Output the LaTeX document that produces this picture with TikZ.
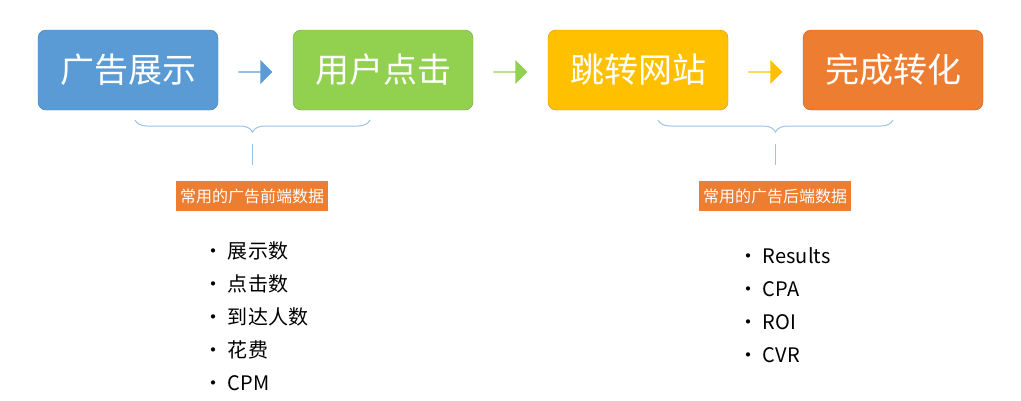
\documentclass[tikz,border=0pt]{standalone}
\usepackage{fontspec}
\setmainfont{Noto Sans CJK SC}
\usetikzlibrary{shapes.arrows,decorations.pathreplacing}
\definecolor{stepBlue}{HTML}{5B9BD5}
\definecolor{stepGreen}{HTML}{92D050}
\definecolor{stepYellow}{HTML}{FFC000}
\definecolor{stepOrange}{HTML}{ED7D31}
\definecolor{braceColor}{HTML}{9DC3E6}
\tikzset{
  stepbox/.style={rounded corners=8pt, minimum width=180pt, minimum height=80pt, text=white, font=\fontsize{34}{38}\selectfont, draw=#1!80!black, fill=#1},
  flowarrow/.style={single arrow, fill=#1, draw=none, minimum width=24pt, single arrow head extend=4pt, minimum height=34pt, inner sep=0pt},
  tagbox/.style={fill=stepOrange, text=white, font=\fontsize{16}{18}\selectfont, inner sep=4pt, minimum height=30pt},
  itemlist/.style={anchor=north west, font=\fontsize{20}{33}\selectfont, align=left},
  bracket/.style={draw=braceColor, line width=1pt, decorate, decoration={brace, mirror, amplitude=12pt}}
}
\begin{document}
\begin{tikzpicture}[x=1pt, y=-1pt]
  \useasboundingbox (0,0) rectangle (1021,400);
  % --- Ablauf ---
  \node[stepbox=stepBlue] (show) at (128,70) {广告展示};
  \node[stepbox=stepGreen] (click) at (383,70) {用户点击};
  \node[stepbox=stepYellow] (jump) at (638,70) {跳转网站};
  \node[stepbox=stepOrange] (done) at (893,70) {完成转化};
  \node[flowarrow=stepBlue] (a1) at (255,72) {};
  \node[flowarrow=stepGreen] (a2) at (510,72) {};
  \node[flowarrow=stepYellow] (a3) at (765,72) {};
  % --- Klammern ---
  \coordinate (l1) at (135,120); \coordinate (l2) at (370,120);
  \coordinate (r1) at (658,120); \coordinate (r2) at (893,120);
  \draw[bracket] (l1) -- (l2);
  \draw[bracket] (r1) -- (r2);
  \draw[braceColor, line width=1pt] (252,144) -- (252,165);
  \draw[braceColor, line width=1pt] (775,144) -- (775,165);
  % --- Beschriftungen ---
  \node[tagbox] (front) at (252,196) {常用的广告前端数据};
  \node[tagbox] (back) at (775,196) {常用的广告后端数据};
  \node[itemlist] (frontlist) at (200,238) {• 展示数\\• 点击数\\• 到达人数\\• 花费\\• CPM};
  \node[itemlist] (backlist) at (735,244) {• Results\\• CPA\\• ROI\\• CVR};
\end{tikzpicture}
\end{document}
